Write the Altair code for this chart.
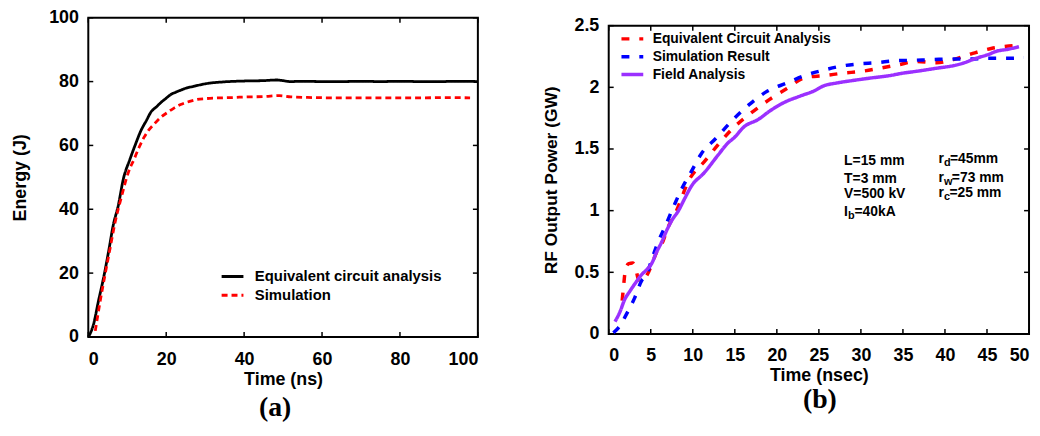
import altair as alt
import pandas as pd

# ---------------- panel (a) data ----------------
A_SERIES = ["Equivalent circuit analysis", "Simulation"]
A_CIRCUIT_T = [0, 0.25, 1.35, 2.6, 3.9, 5.2, 6.4, 7.7, 9, 10.7, 12, 13.5, 15, 16, 17.5, 18.6, 20, 21.1,
               22.5, 23.7, 25, 27, 30.5, 34.7, 40.6, 45, 48.3, 50, 51.7, 55, 60, 65, 70, 75, 80, 85, 90, 95, 100]
A_CIRCUIT_E = [0, 0.5, 4, 11.2, 18.4, 26.7, 35, 41.2, 49.5, 55.7, 60, 64.6, 68, 70.3, 72.1, 73.4, 74.8, 75.9,
               76.7, 77.3, 77.9, 78.5, 79.4, 79.9, 80.2, 80.3, 80.5, 80.3, 80, 80.1, 80, 80, 80.1, 80, 80.1, 80,
               80, 80.1, 80]
A_SIM_T = [1.8, 3.05, 4.3, 5.6, 6.9, 8.6, 10.3, 11.8, 13, 14.3, 15.5, 16.9, 18.6, 20.3, 22, 23.7, 26, 27.9,
           30.5, 33.8, 37, 40.6, 45, 49.1, 52, 57.5, 65, 75, 85, 92, 98]
A_SIM_E = [1.9, 11.2, 19.5, 27.8, 36, 44.3, 51.6, 55.8, 59.3, 62.5, 64.8, 66.7, 68.8, 70.3, 71.7, 72.8, 73.8,
           74.4, 74.7, 74.9, 75, 75.2, 75.3, 75.6, 75.2, 75, 74.9, 74.9, 74.9, 75, 74.9]
A_XTICKS = [0, 20, 40, 60, 80, 100]
A_YTICKS = [0, 20, 40, 60, 80, 100]

# ---------------- panel (b) data ----------------
B_SERIES = ["Equivalent Circuit Analysis", "Simulation Result", "Field Analysis"]
B_CIRC_T = [1.6, 1.8, 2.0, 2.4, 2.85, 3.2, 3.55, 3.95, 4.5, 5.1, 5.7, 6.5, 6.9, 7.9, 9.65, 11.4, 13.2, 14.8,
            16.9, 19.1, 21.2, 23.4, 25.6, 27.9, 30.1, 32.3, 34.6, 36.6, 39, 41, 43.3, 45.5, 47.6, 48.4]
B_CIRC_P = [0.27, 0.41, 0.53, 0.57, 0.575, 0.535, 0.44, 0.43, 0.47, 0.56, 0.665, 0.76, 0.84, 0.975, 1.26, 1.40,
            1.55, 1.67, 1.79, 1.90, 1.99, 2.08, 2.095, 2.115, 2.13, 2.155, 2.185, 2.21, 2.2, 2.225, 2.275, 2.315,
            2.335, 2.34]
B_SIM_T = [0.55, 1.15, 2.3, 3.1, 3.9, 4.5, 5.1, 5.9, 6.7, 7.7, 8.7, 9.85, 11, 12.8, 14.6, 16.7, 18.9, 21.2,
           23.3, 25.6, 27.5, 29.7, 31.9, 34, 36.4, 38.6, 40.8, 42.9, 45, 47.2, 49.4]
B_SIM_P = [0.01, 0.05, 0.185, 0.295, 0.43, 0.48, 0.6, 0.75, 0.87, 1.03, 1.18, 1.32, 1.46, 1.59, 1.725, 1.86,
           1.97, 2.035, 2.095, 2.14, 2.17, 2.19, 2.2, 2.215, 2.22, 2.225, 2.23, 2.23, 2.235, 2.235, 2.24]
B_FIELD_T = [0.75, 1.34, 1.9, 2.5, 3.3, 3.9, 4.5, 5.1, 5.7, 6.3, 6.9, 7.5, 8.3, 9.05, 9.85, 11.4, 13, 14.2,
             14.9, 16.1, 17.8, 19.2, 20.8, 22.8, 24.4, 25.5, 27.1, 29, 31.1, 33.4, 35, 36.6, 39, 41.3, 42.1,
             43.7, 45.3, 46, 47.6, 48.8]
B_FIELD_P = [0.10, 0.18, 0.28, 0.345, 0.425, 0.48, 0.52, 0.57, 0.665, 0.745, 0.84, 0.92, 1.0, 1.1, 1.2, 1.31,
             1.45, 1.55, 1.59, 1.68, 1.74, 1.81, 1.875, 1.93, 1.97, 2.01, 2.035, 2.055, 2.075, 2.095, 2.115,
             2.13, 2.155, 2.18, 2.195, 2.235, 2.27, 2.29, 2.31, 2.33]
B_XTICKS = [0, 5, 10, 15, 20, 25, 30, 35, 40, 45, 50]
B_YTICKS = [0, 0.5, 1, 1.5, 2, 2.5]

# parameter notes (b): (base text, subscript, rest)
B_NOTES = [
    ("L=15 mm", "", ""),
    ("T=3 mm", "", ""),
    ("V=500 kV", "", ""),
    ("I", "b", "=40kA"),
    ("r", "d", "=45mm"),
    ("r", "w", "=73 mm"),
    ("r", "c", "=25 mm"),
]
# placement of the notes: data position, then pixel offsets of subscript and rest
NOTE_X = [28.0, 28.0, 28.0, 28.0, 39.23, 39.23, 39.23]
NOTE_Y = [1.405, 1.254, 1.131, 0.986, 1.417, 1.268, 1.139]
NOTE_SUB_DX = [0, 0, 0, 4.0, 5.5, 5.5, 5.5]
NOTE_REST_DX = [0, 0, 0, 10.5, 11.5, 13.5, 11.0]

SANS = "Liberation Sans"
SERIF = "Liberation Serif"


def frame_ticks(xticks, yticks, xscale, yscale, xaxis, yaxis, w, h, L=5):
    xd = pd.DataFrame({"v": xticks})
    yd = pd.DataFrame({"v": yticks})
    rx = alt.Chart(xd).mark_rule(color="black", strokeWidth=1.5)
    ry = alt.Chart(yd).mark_rule(color="black", strokeWidth=1.5)
    X = alt.X("v:Q", scale=xscale, axis=xaxis)
    Y = alt.Y("v:Q", scale=yscale, axis=yaxis)
    return [
        rx.encode(x=X, y=alt.value(h), y2=alt.value(h - L)),
        rx.encode(x=X, y=alt.value(0), y2=alt.value(L)),
        ry.encode(y=Y, x=alt.value(0), x2=alt.value(L)),
        ry.encode(y=Y, x=alt.value(w), x2=alt.value(w - L)),
    ]


# ---------------- panel (a) ----------------
AW, AH = 393, 322
df_a = pd.DataFrame({
    "t": A_CIRCUIT_T + A_SIM_T,
    "e": A_CIRCUIT_E + A_SIM_E,
    "series": [A_SERIES[0]] * len(A_CIRCUIT_T) + [A_SERIES[1]] * len(A_SIM_T),
})
xa = alt.Scale(domain=[0, 100], nice=False)
ya = alt.Scale(domain=[0, 100], nice=False)
ax_ax = alt.Axis(values=A_XTICKS, format="d", title="Time (ns)", labelPadding=14, titlePadding=2)
ax_ay = alt.Axis(values=A_YTICKS, format="d", title="Energy (J)", labelPadding=10, titlePadding=19)
# legend rows 19 px apart; sample line 22 px long
leg_a = alt.Legend(orient="none", legendX=134.5, legendY=250, title=None, labelFont=SANS, labelFontSize=15,
                   labelFontWeight="bold", labelColor="black", symbolType="M-1.158,0H1.158", symbolSize=361,
                   symbolStrokeWidth=3, labelOffset=11.5, rowPadding=0, padding=0, labelLimit=0)
lines_a = alt.Chart(df_a).mark_line(strokeWidth=2.8, interpolate="monotone").encode(
    x=alt.X("t:Q", scale=xa, axis=ax_ax),
    y=alt.Y("e:Q", scale=ya, axis=ax_ay),
    color=alt.Color("series:N", scale=alt.Scale(domain=A_SERIES, range=["#000000", "#ff0000"]), legend=leg_a),
    strokeDash=alt.StrokeDash("series:N", scale=alt.Scale(domain=A_SERIES, range=[[1, 0], [6, 4]]),
                              legend=leg_a),
)
panel_a = alt.layer(lines_a, *frame_ticks(A_XTICKS, A_YTICKS, xa, ya, ax_ax, ax_ay, AW, AH)).properties(
    width=AW, height=AH,
    title=alt.TitleParams("(a)", orient="bottom", anchor="middle", frame="group", font=SERIF, fontSize=28,
                          fontWeight="bold", color="black", offset=6, dx=-8),
)

# ---------------- panel (b) ----------------
BW, BH = 424, 311
df_b = pd.DataFrame({
    "t": B_CIRC_T + B_SIM_T + B_FIELD_T,
    "p": B_CIRC_P + B_SIM_P + B_FIELD_P,
    "series": [B_SERIES[0]] * len(B_CIRC_T) + [B_SERIES[1]] * len(B_SIM_T) + [B_SERIES[2]] * len(B_FIELD_T),
})
xb = alt.Scale(domain=[0, 50], nice=False)
yb = alt.Scale(domain=[0, 2.5], nice=False)
ax_bx = alt.Axis(values=B_XTICKS, format="d", title="Time (nsec)", labelPadding=13, titlePadding=2)
ax_by = alt.Axis(values=B_YTICKS, format="~g", title="RF Output Power (GW)", labelPadding=10,
                 titlePadding=14, titleFontSize=17.5)
# legend rows 17.7 px apart; sample line 22 px long
leg_b = alt.Legend(orient="none", legendX=12.85, legendY=2.3, title=None, labelFont=SANS, labelFontSize=14,
                   labelFontWeight="bold", labelColor="black", symbolType="M-1.243,0H1.243", symbolSize=313,
                   symbolStrokeWidth=3.5, labelOffset=9.45, rowPadding=0, padding=0, labelLimit=0)
lines_b = alt.Chart(df_b).mark_line(strokeWidth=3.5, interpolate="monotone").encode(
    x=alt.X("t:Q", scale=xb, axis=ax_bx),
    y=alt.Y("p:Q", scale=yb, axis=ax_by),
    color=alt.Color("series:N", scale=alt.Scale(domain=B_SERIES, range=["#ff0000", "#0000ff", "#9b30ff"]),
                    legend=leg_b),
    strokeDash=alt.StrokeDash("series:N", scale=alt.Scale(domain=B_SERIES, range=[[8, 10], [8, 10], [1, 0]]),
                              legend=leg_b),
)

note_kw = dict(font=SANS, fontWeight="bold", color="black", align="left", baseline="middle")
note_layers = []
for i, (base, sub, rest) in enumerate(B_NOTES):
    d = pd.DataFrame({"x": [NOTE_X[i]], "y": [NOTE_Y[i]], "base": [base], "sub": [sub], "rest": [rest]})
    enc = dict(x=alt.X("x:Q", scale=xb, axis=ax_bx), y=alt.Y("y:Q", scale=yb, axis=ax_by))
    note_layers.append(alt.Chart(d).mark_text(fontSize=14, **note_kw).encode(text="base:N", **enc))
    if sub:
        note_layers.append(alt.Chart(d).mark_text(fontSize=11, dx=NOTE_SUB_DX[i], dy=4, **note_kw)
                           .encode(text="sub:N", **enc))
        note_layers.append(alt.Chart(d).mark_text(fontSize=14, dx=NOTE_REST_DX[i], **note_kw)
                           .encode(text="rest:N", **enc))

panel_b = alt.layer(lines_b, *frame_ticks(B_XTICKS, B_YTICKS, xb, yb, ax_bx, ax_by, BW, BH),
                    *note_layers).properties(
    width=BW, height=BH,
    title=alt.TitleParams("(b)", orient="bottom", anchor="middle", frame="group", font=SERIF, fontSize=28,
                          fontWeight="bold", color="black", offset=2, dx=1),
)

chart = alt.hconcat(panel_a, panel_b, spacing=56, center=True).resolve_scale(
    color="independent", strokeDash="independent", x="independent", y="independent"
).properties(
    padding={"left": 2, "top": -2, "right": 0, "bottom": 0}, background="white"
).configure_view(stroke="black", strokeWidth=2).configure_axis(
    labelFont=SANS, labelFontSize=18, labelFontWeight="bold", labelColor="black",
    titleFont=SANS, titleFontSize=18, titleFontWeight="bold", titleColor="black",
    grid=False, ticks=False, domain=False,
)

chart.save("out.html", embed_options={"renderer": "svg", "actions": False})
